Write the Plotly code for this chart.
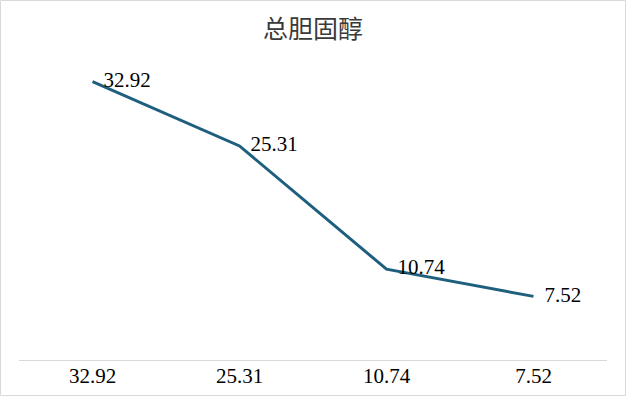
import plotly.graph_objects as go

categories = ["32.92", "25.31", "10.74", "7.52"]
values = [32.92, 25.31, 10.74, 7.52]
title_text = "总胆固醇"

fig = go.Figure()
fig.add_trace(go.Scatter(
    x=categories, y=values, mode="lines+markers+text",
    text=[f"{v:.2f}" for v in values],
    textposition="middle right",
    textfont=dict(family="Liberation Serif", size=21, color="#000000"),
    line=dict(color="#1f5f7e", width=3),
    marker=dict(size=16, color="rgba(0,0,0,0)"),
    cliponaxis=False,
    hoverinfo="skip",
))

fig.update_layout(
    width=626, height=396,
    margin=dict(l=19, r=19, t=64, b=36, autoexpand=False),
    paper_bgcolor="white", plot_bgcolor="white",
    showlegend=False,
    title=dict(text=title_text, x=0.5, xanchor="center", y=1 - 29/396, yanchor="middle",
               font=dict(family="Noto Sans CJK SC", size=25, color="#3a3a3a")),
    xaxis=dict(type="category", showgrid=False, showline=True, linecolor="#d9d9d9",
               linewidth=1, ticks="", automargin=False, ticklabelstandoff=-3,
               tickfont=dict(family="Liberation Serif", size=21, color="#000000"),
               range=[-0.5, 3.5]),
    yaxis=dict(range=[0, 35], visible=False, showgrid=False, zeroline=False),
    shapes=[dict(type="rect", xref="paper", yref="paper", x0=-18.5/588, x1=1+18.5/588,
                 y0=-35.5/296, y1=1+63.5/296, line=dict(color="#d9d9d9", width=1),
                 fillcolor="rgba(0,0,0,0)")],
)

fig.write_html("out.html", config={"displayModeBar": False},
               post_script="document.body.style.margin='0';")
